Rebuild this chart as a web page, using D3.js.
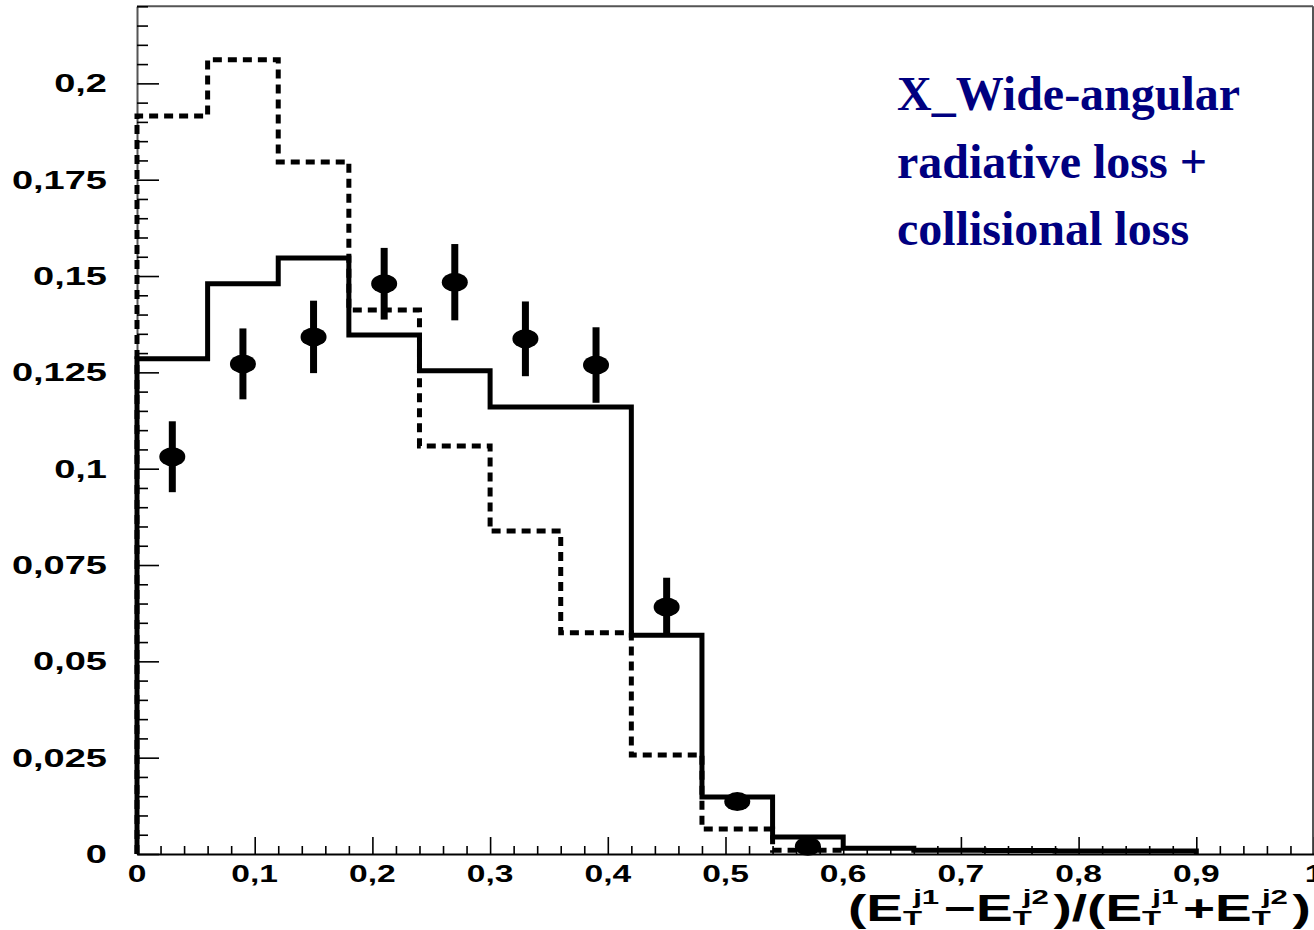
<!DOCTYPE html>
<html><head><meta charset="utf-8">
<script src="https://cdn.jsdelivr.net/npm/d3@7"></script>
<style>body{margin:0;background:#fff}svg{display:block}</style></head>
<body><svg id="c" width="1314" height="930"></svg>
<script>
// ---- data ----
const binEdges = [0,0.06,0.12,0.18,0.24,0.30,0.36,0.42,0.48,0.54,0.60,0.66,0.72,0.78,0.84,0.90];
const solidValues  = [0.1285,0.1480,0.1547,0.1347,0.1254,0.1160,0.1160,0.0568,0.0148,0.0044,0.0015,0.0010,0.0009,0.0008,0.0008];
const dashedValues = [0.1915,0.2061,0.1796,0.1412,0.1059,0.0838,0.0574,0.0257,0.0065,0.0010];
const dataX   = [0.03,0.09,0.15,0.21,0.27,0.33,0.39,0.45,0.51,0.57];
const dataY   = [0.1031,0.1272,0.1342,0.1480,0.1484,0.1337,0.1269,0.0641,0.0136,0.0020];
const dataErr = [0.0092,0.0092,0.0094,0.0093,0.0099,0.0097,0.0098,0.0076,0.0020,0.0010];
const yTickValues = [0,0.025,0.05,0.075,0.1,0.125,0.15,0.175,0.2];
const yTickLabels = ["0","0,025","0,05","0,075","0,1","0,125","0,15","0,175","0,2"];
const xTickValues = [0,0.1,0.2,0.3,0.4,0.5,0.6,0.7,0.8,0.9,1];
const xTickLabels = ["0","0,1","0,2","0,3","0,4","0,5","0,6","0,7","0,8","0,9","1"];
const annotation = ["X_Wide-angular","radiative loss +","collisional loss"];

// ---- layout ----
const svg = d3.select("#c");
const x = d3.scaleLinear().domain([0,1]).range([137,1314]);
const y = d3.scaleLinear().domain([0,0.22]).range([854,6.3]);

// frame (top & right)
svg.append("line").attr("x1",137).attr("x2",1313).attr("y1",y(0.22)).attr("y2",y(0.22))
  .attr("stroke","#555").attr("stroke-width",2);
svg.append("line").attr("x1",1313).attr("x2",1313).attr("y1",y(0.22)).attr("y2",y(0))
  .attr("stroke","#555").attr("stroke-width",2);

// x axis (ticks inside)
const xMinor = d3.range(0,1.0001,0.02).filter(v=>Math.abs(Math.round(v*10)-v*10)>1e-6);
const gx = svg.append("g").attr("transform",`translate(0,${y(0)})`);
gx.call(d3.axisTop(x).tickValues(xTickValues).tickSize(17).tickSizeOuter(0).tickFormat(""));
gx.append("g").call(d3.axisTop(x).tickValues(xMinor).tickSize(8).tickSizeOuter(0).tickFormat(""))
  .select(".domain").remove();
gx.selectAll("line").attr("stroke","#000").attr("stroke-width",1.6);
gx.select(".domain").attr("stroke","#000").attr("stroke-width",2);

// y axis (ticks inside)
const yMinor = d3.range(0,0.2201,0.005).filter(v=>Math.abs(Math.round(v/0.025)-v/0.025)>1e-6);
const gy = svg.append("g").attr("transform",`translate(${x(0)},0)`);
gy.call(d3.axisRight(y).tickValues(yTickValues).tickSize(22).tickSizeOuter(0).tickFormat(""));
gy.append("g").call(d3.axisRight(y).tickValues(yMinor).tickSize(11).tickSizeOuter(0).tickFormat(""))
  .select(".domain").remove();
gy.selectAll("line").attr("stroke","#000").attr("stroke-width",1.6);
gy.select(".domain").attr("stroke","#555").attr("stroke-width",2);

// tick labels
const lblFont = "'Liberation Sans', Arial, sans-serif";
svg.append("g").selectAll("text").data(yTickValues).join("text")
  .attr("transform",(d)=>`translate(107,${y(d)+9}) scale(1.52,1)`)
  .attr("text-anchor","end").attr("font-family",lblFont).attr("font-weight","bold")
  .attr("font-size",25).attr("fill","#000").text((d,i)=>yTickLabels[i]);
svg.append("g").selectAll("text").data(xTickValues).join("text")
  .attr("transform",(d)=>`translate(${x(d)},882) scale(1.4,1)`)
  .attr("text-anchor","middle").attr("font-family",lblFont).attr("font-weight","bold")
  .attr("font-size",24).attr("fill","#000").text((d,i)=>xTickLabels[i]);

// histograms
function stepPoints(vals){
  const pts=[[binEdges[0],0]];
  vals.forEach((v,i)=>{pts.push([binEdges[i],v]);pts.push([binEdges[i+1],v]);});
  pts.push([binEdges[vals.length],0]);
  return pts;
}
const line = d3.line().x(d=>x(d[0])).y(d=>y(d[1]));
svg.append("path").attr("d",line(stepPoints(dashedValues)))
  .attr("fill","none").attr("stroke","#000").attr("stroke-width",5)
  .attr("stroke-dasharray","9,6").attr("stroke-linejoin","miter");
svg.append("path").attr("d",line(stepPoints(solidValues)))
  .attr("fill","none").attr("stroke","#000").attr("stroke-width",5)
  .attr("stroke-linejoin","miter");

// data points
const gp = svg.append("g");
gp.selectAll("line").data(dataX).join("line")
  .attr("x1",d=>x(d)).attr("x2",d=>x(d))
  .attr("y1",(d,i)=>y(dataY[i]+dataErr[i])).attr("y2",(d,i)=>y(dataY[i]-dataErr[i]))
  .attr("stroke","#000").attr("stroke-width",7);
gp.selectAll("ellipse").data(dataX).join("ellipse")
  .attr("cx",d=>x(d)).attr("cy",(d,i)=>y(dataY[i])).attr("rx",13).attr("ry",9.5).attr("fill","#000");

// annotation
svg.append("g").selectAll("text").data(annotation).join("text")
  .attr("x",897).attr("y",(d,i)=>110+i*67.5)
  .attr("font-family","'Liberation Serif','Times New Roman',serif").attr("font-weight","bold")
  .attr("font-size",48).attr("fill","#000080").text(d=>d);

// x-axis title
const tg = svg.append("g");
const tt = tg.append("text").attr("font-family",lblFont).attr("font-weight","bold")
  .attr("font-size",37).attr("fill","#000");
function ET(t, sup){
  t.append("tspan").text("E");
  t.append("tspan").attr("font-size",21).attr("dy",4).text("T");
  t.append("tspan").attr("font-size",21).attr("dx",-6).attr("dy",-21).text(sup);
  t.append("tspan").attr("dy",17).text("\u200A");
}
tt.append("tspan").text("(");
ET(tt,"j1");
tt.append("tspan").text("\u2212");
ET(tt,"j2");
tt.append("tspan").text(")/(");
ET(tt,"j1");
tt.append("tspan").text("+");
ET(tt,"j2");
tt.append("tspan").text(")");
const bb = tt.node().getBBox();
const sx = (1311-848)/bb.width;
tg.attr("transform",`translate(${848 - bb.x*sx},921) scale(${sx},1)`);
</script></body></html>
